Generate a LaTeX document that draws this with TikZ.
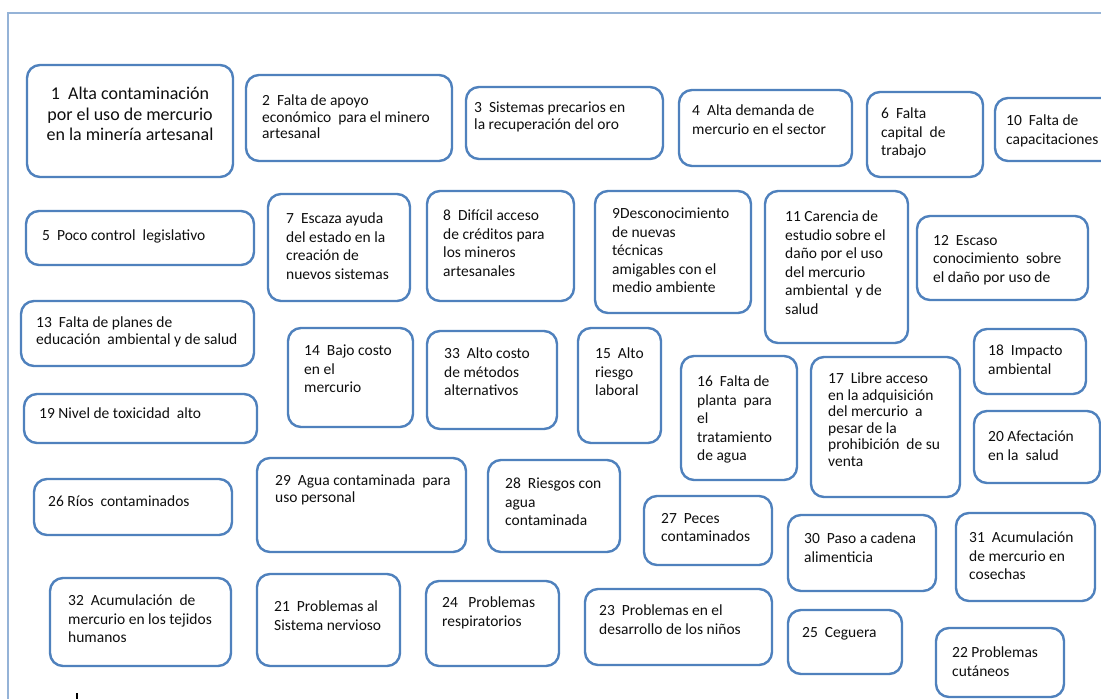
\documentclass[tikz,border=0pt]{standalone}
\usepackage{fontspec}
\setmainfont{Carlito}
\usepackage{tikz}
\usetikzlibrary{positioning}
\definecolor{cajaazul}{RGB}{79, 129, 189}
\definecolor{marcoazul}{RGB}{149, 179, 215}
\definecolor{textonegro}{RGB}{15, 15, 15}

\tikzset{
    caja/.style={draw=cajaazul, line width=2.4pt, rounded corners=13pt, fill=white},
    texto/.style={anchor=north west, align=left, inner sep=0pt, yshift=-2pt, text=textonegro,
        font=\fontsize{15.5}{18.5}\selectfont},
    textoapretado/.style={texto, font=\fontsize{15.5}{16.5}\selectfont},
    textogrande/.style={texto, anchor=north, align=center, font=\fontsize{18}{20.5}\selectfont}
}

\begin{document}
\begin{tikzpicture}[x=1pt, y=-1pt]
    \clip (0,0) rectangle (1101,699);
    \fill[white] (0,0) rectangle (1101,699);
    \draw[marcoazul, line width=1.5pt] (8,699) -- (8,13) -- (1101,13);
    \draw[black, line width=1.3pt] (77,693) -- (77,699);

    % fila 1
    \draw[caja] (27,65) rectangle (233,177);
    \node[textogrande] (t1) at (130,85) {1~ Alta contaminación\\por el uso de mercurio\\en la minería artesanal};
    \draw[caja] (246,75) rectangle (452,161);
    \node[textoapretado] (t2) at (262,93) {2~ Falta de apoyo\\económico~ para el minero\\artesanal};
    \draw[caja] (466,87) rectangle (663,159);
    \node[textoapretado] (t3) at (474,100) {3~ Sistemas precarios en\\la recuperación del oro};
    \draw[caja] (679,90) rectangle (852,166);
    \node[texto] (t4) at (692,103) {4~ Alta demanda de\\mercurio en el sector};
    \draw[caja] (867,92) rectangle (983,177);
    \node[texto] (t6) at (881,106) {6~ Falta\\capital~ de\\trabajo};
    \draw[caja] (995,98) rectangle (1115,161);
    \node[texto] (t10) at (1006,113) {10~ Falta de\\capacitaciones};

    % fila 2
    \draw[caja] (26,211) rectangle (254,265);
    \node[texto] (t5) at (42,228) {5~ Poco control~ legislativo};
    \draw[caja] (268,194) rectangle (410,301);
    \node[texto] (t7) at (286,211) {7~ Escaza ayuda\\del estado en la\\creación de\\nuevos sistemas};
    \draw[caja] (427,191) rectangle (574,301);
    \node[texto] (t8) at (443,208) {8~ Difícil acceso\\de créditos para\\los mineros\\artesanales};
    \draw[caja] (595,191) rectangle (751,313);
    \node[texto] (t9) at (612,206) {9Desconocimiento\\de nuevas\\técnicas\\amigables con el\\medio ambiente};
    \draw[caja] (765,191) rectangle (908,343);
    \node[texto] (t11) at (785,209) {11 Carencia de\\estudio sobre el\\daño por el uso\\del mercurio\\ambiental~ y de\\salud};
    \draw[caja] (917,216) rectangle (1088,300);
    \node[texto] (t12) at (933,233) {12~ Escaso\\conocimiento~ sobre\\el daño por uso de};

    % fila 3
    \draw[caja] (21,301) rectangle (254,366);
    \node[textoapretado] (t13) at (36,315) {13~ Falta de planes de\\educación~ ambiental y de salud};
    \draw[caja] (288,328) rectangle (413,427);
    \node[texto] (t14) at (304,343) {14~ Bajo costo\\en el\\mercurio};
    \draw[caja] (427,331) rectangle (557,429);
    \node[texto] (t33) at (444,346) {33~ Alto costo\\de métodos\\alternativos};
    \draw[caja] (578,328) rectangle (661,443);
    \node[texto] (t15) at (595,346) {15~ Alto\\riesgo\\laboral};
    \draw[caja] (681,356) rectangle (797,480);
    \node[texto] (t16) at (697,374) {16~ Falta de\\planta~ para\\el\\tratamiento\\de agua};
    \draw[caja] (811,357) rectangle (960,497);
    \node[textoapretado] (t17) at (828,371) {17~ Libre acceso\\en la adquisición\\del mercurio~ a\\pesar de la\\prohibición~ de su\\venta};
    \draw[caja] (974,329) rectangle (1086,394);
    \node[texto] (t18) at (988,343) {18~ Impacto\\ambiental};

    % fila 4
    \draw[caja] (24,394) rectangle (257,443);
    \node[texto] (t19) at (39,406) {19 Nivel de toxicidad~ alto};
    \draw[caja] (974,411) rectangle (1100,483);
    \node[texto] (t20) at (988,429) {20 Afectación\\en la~ salud};
    \draw[caja] (34,479) rectangle (232,535);
    \node[texto] (t26) at (48,494) {26 Ríos~ contaminados};
    \draw[caja] (257,458) rectangle (466,552);
    \node[textoapretado] (t29) at (275,473) {29~ Agua contaminada~ para\\uso personal};
    \draw[caja] (488,460) rectangle (620,552);
    \node[texto] (t28) at (505,476) {28~ Riesgos con\\agua\\contaminada};
    \draw[caja] (644,496) rectangle (772,565);
    \node[texto] (t27) at (661,511) {27~ Peces\\contaminados};
    \draw[caja] (788,515) rectangle (936,591);
    \node[texto] (t30) at (804,531) {30~ Paso a cadena\\alimenticia};
    \draw[caja] (956,513) rectangle (1095,601);
    \node[texto] (t31) at (969,530) {31~ Acumulación\\de mercurio en\\cosechas};

    % fila 5
    \draw[caja] (50,578) rectangle (231,666);
    \node[texto] (t32) at (68,593) {32~ Acumulación~ de\\mercurio en los tejidos\\humanos};
    \draw[caja] (257,574) rectangle (400,666);
    \node[texto] (t21) at (274,599) {21~ Problemas al\\Sistema nervioso};
    \draw[caja] (426,581) rectangle (559,666);
    \node[texto] (t24) at (442,595) {24~~ Problemas\\respiratorios};
    \draw[caja] (585,589) rectangle (772,665);
    \node[texto] (t23) at (599,603) {23~ Problemas en el\\desarrollo de los niños};
    \draw[caja] (788,610) rectangle (902,674);
    \node[texto] (t25) at (802,625) {25~ Ceguera};
    \draw[caja] (936,628) rectangle (1064,697);
    \node[texto] (t22) at (952,645) {22 Problemas\\cutáneos};
\end{tikzpicture}
\end{document}
